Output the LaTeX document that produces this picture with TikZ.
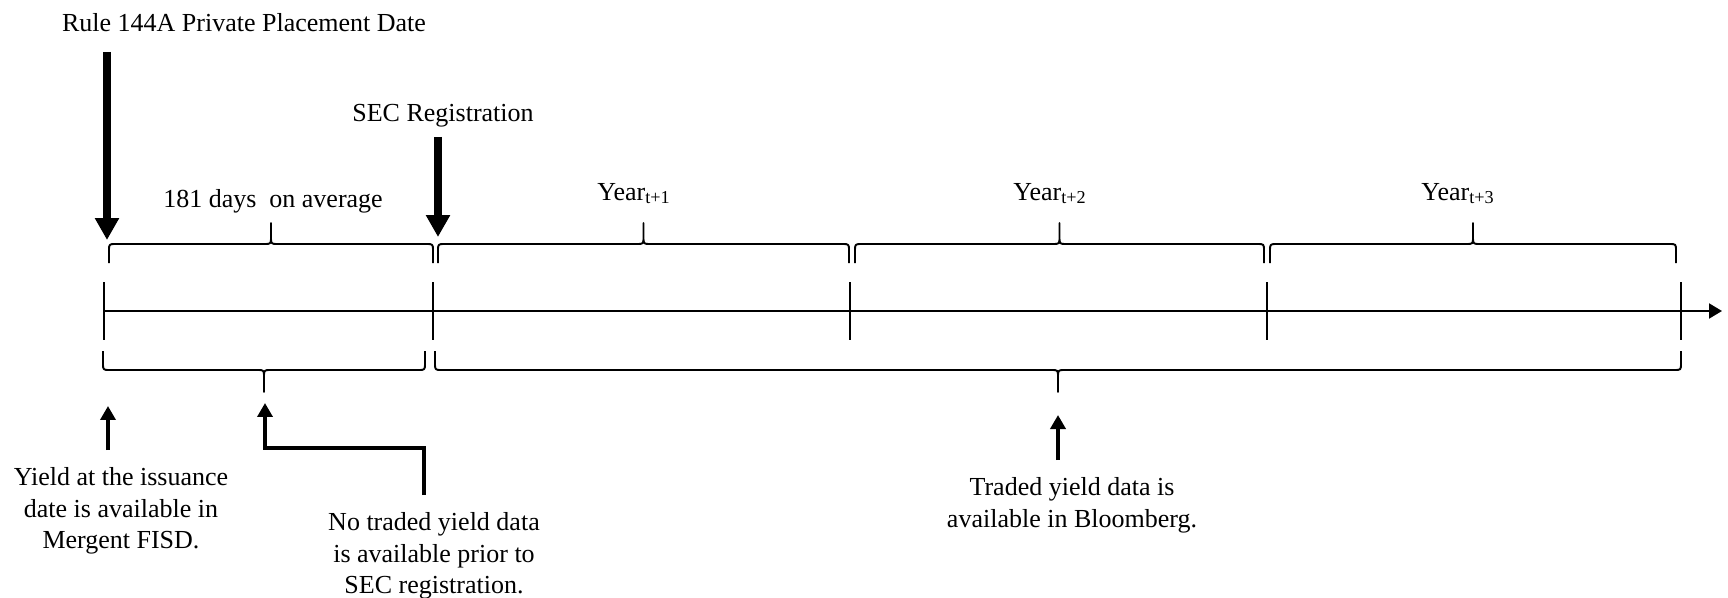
\documentclass[tikz,border=0pt]{standalone}
\usepackage{fontspec}
\setmainfont{Liberation Serif}
\usetikzlibrary{arrows.meta, calc, positioning}

\tikzset{
  axisline/.style={line width=1.2pt},
  braceline/.style={line width=1.1pt, line join=round},
  bigarrow/.style={line width=4pt, -{Triangle[length=0.44cm, width=0.46cm]}},
  smallarrow/.style={line width=2.8pt, -{Triangle[length=0.28cm, width=0.3cm]}},
  lbl/.style={font=\fontsize{14.8}{18.1}\selectfont, inner sep=0pt, anchor=base},
  note/.style={lbl, align=center, anchor=north},
}

% brace: left x, right x, tip y, line y, cusp y
\newcommand{\tlbrace}[5]{%
  \pgfmathsetmacro{\tlmid}{(#1+#2)/2}%
  \pgfmathsetmacro{\tlend}{#4+7*sign(#3-#4)}%
  \pgfmathsetmacro{\tlcsp}{#4-7*sign(#3-#4)}%
  \draw[braceline] (#1,#3) -- (#1,\tlend) .. controls (#1,#4) .. ({#1+7},#4)
    -- ({\tlmid-7},#4) .. controls (\tlmid,#4) .. (\tlmid,\tlcsp) -- (\tlmid,#5)
    -- (\tlmid,\tlcsp) .. controls (\tlmid,#4) .. ({\tlmid+7},#4)
    -- ({#2-7},#4) .. controls (#2,#4) .. (#2,\tlend) -- (#2,#3);
}

\begin{document}
\begin{tikzpicture}[x=0.02cm, y=-0.02cm]
  \useasboundingbox (0,0) rectangle (1728,598);

  \coordinate (t0) at (104,311);
  \coordinate (t1) at (433,311);
  \coordinate (t2) at (850,311);
  \coordinate (t3) at (1267,311);
  \coordinate (t4) at (1681,311);
  \coordinate (tend) at (1722,311);

  \draw[axisline, -{Triangle[length=0.26cm, width=0.3cm]}] (t0) -- (tend);
  \draw[axisline] ($(t0)+(0,-29)$) -- ($(t0)+(0,29)$);
  \draw[axisline] ($(t1)+(0,-29)$) -- ($(t1)+(0,29)$);
  \draw[axisline] ($(t2)+(0,-29)$) -- ($(t2)+(0,29)$);
  \draw[axisline] ($(t3)+(0,-29)$) -- ($(t3)+(0,29)$);
  \draw[axisline] ($(t4)+(0,-29)$) -- ($(t4)+(0,29)$);

  \tlbrace{109}{433}{263}{244}{223}
  \tlbrace{438}{849}{263}{244}{223}
  \tlbrace{855}{1264}{263}{244}{223}
  \tlbrace{1270}{1676}{263}{244}{223}
  \tlbrace{103}{425}{351}{370}{392}
  \tlbrace{435}{1681}{351}{370}{392}

  \node[lbl] (rule) at (244,32) {Rule 144A Private Placement Date};
  \node[lbl] (sec) at (443,122) {SEC Registration};
  \node[lbl] (avg) at (273,207) {181 days\ \ on average};
  \node[lbl] (year1) at (634,200) {Year\textsubscript{t+1}};
  \node[lbl] (year2) at (1050,200) {Year\textsubscript{t+2}};
  \node[lbl] (year3) at (1458,200) {Year\textsubscript{t+3}};

  \coordinate (rule top) at (107,52);
  \coordinate (rule tip) at (107,240);
  \coordinate (sec top) at (438,137);
  \coordinate (sec tip) at (438,237);
  \draw[bigarrow] (rule top) -- (rule tip);
  \draw[bigarrow] (sec top) -- (sec tip);

  \node[note] (fisd) at (121,467) {Yield at the issuance\\date is available in\\Mergent FISD.};
  \node[note] (notraded) at (434,512) {No traded yield data\\is available prior to\\SEC registration.};
  \node[note] (bloom) at (1072,477) {Traded yield data is\\available in Bloomberg.};

  \coordinate (fisd tip) at (108,406);
  \coordinate (nd bend) at (265,448);
  \coordinate (nd tip) at (265,403);
  \coordinate (bloom tip) at (1058,415);
  \draw[smallarrow] ($(fisd.north)+(-13,-17)$) -- (fisd tip);
  \draw[smallarrow] ($(notraded.north)+(-10,-17)$) |- (nd bend) -- (nd tip);
  \draw[smallarrow] ($(bloom.north)+(-14,-17)$) -- (bloom tip);
\end{tikzpicture}
\end{document}
